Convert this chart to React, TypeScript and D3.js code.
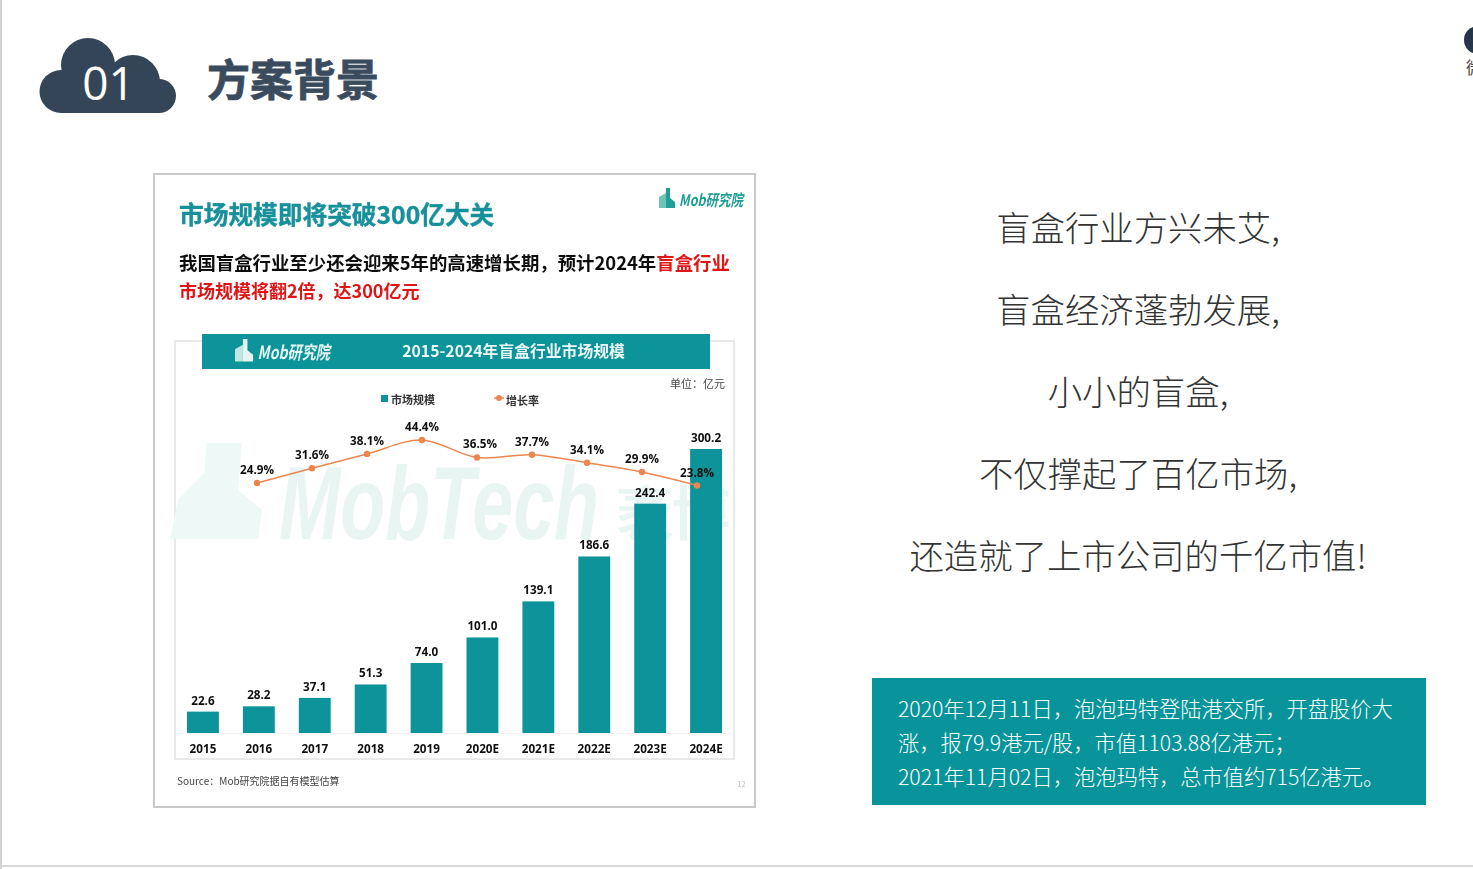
import React, { useEffect, useRef } from "react";
import * as d3 from "d3";

const categories = ["2015", "2016", "2017", "2018", "2019", "2020E", "2021E", "2022E", "2023E", "2024E"];
const marketSize = [22.6, 28.2, 37.1, 51.3, 74.0, 101.0, 139.1, 186.6, 242.4, 300.2];
const growthYears = ["2016", "2017", "2018", "2019", "2020E", "2021E", "2022E", "2023E", "2024E"];
const growthRate = [24.9, 31.6, 38.1, 44.4, 36.5, 37.7, 34.1, 29.9, 23.8];
const rightLines = [
  "盲盒行业方兴未艾,",
  "盲盒经济蓬勃发展,",
  "小小的盲盒,",
  "不仅撑起了百亿市场,",
  "还造就了上市公司的千亿市值!",
];
const noteLines = [
  "2020年12月11日，泡泡玛特登陆港交所，开盘股价大",
  "涨，报79.9港元/股，市值1103.88亿港元；",
  "2021年11月02日，泡泡玛特，总市值约715亿港元。",
];

const TEAL = "#08949a";
const ORANGE = "#ec8550";
const CJK = "'Noto Sans CJK SC', 'Noto Sans', sans-serif";
const NUM = "'Open Sans', sans-serif";

const App: React.FC = () => {
  const svgRef = useRef<SVGSVGElement | null>(null);

  useEffect(() => {
    if (!svgRef.current) return;
    const svg = d3.select(svgRef.current);
    svg.selectAll("*").remove();

    const defs = svg.append("defs");
    defs.append("filter").attr("id", "soft").attr("x", 0).attr("y", 0).attr("width", 1).attr("height", 1)
      .append("feGaussianBlur").attr("stdDeviation", 0.4);

    let root: any = svg;
    const label = (x: number, y: number, s: string, size: number, fill: string, weight = 400, anchor = "start") =>
      root.append("text")
        .attr("x", x).attr("y", y)
        .attr("font-size", size).attr("font-weight", weight)
        .attr("fill", fill).attr("text-anchor", anchor)
        .attr("font-family", CJK)
        .text(s);

    // page frame
    svg.append("rect").attr("width", 1473).attr("height", 869).attr("fill", "#fff");
    svg.append("rect").attr("width", 2).attr("height", 869).attr("fill", "#d2d2d2");
    svg.append("rect").attr("y", 865).attr("width", 1473).attr("height", 2).attr("fill", "#d8d8d8");

    // cloud badge
    const cloud = svg.append("g").attr("fill", "#354558");
    [[88, 65, 27], [133, 82, 27], [61, 91.5, 21.5], [159, 96, 17]].forEach(([cx, cy, r]) => {
      cloud.append("circle").attr("cx", cx).attr("cy", cy).attr("r", r);
    });
    cloud.append("rect").attr("x", 61).attr("y", 80).attr("width", 98).attr("height", 33);
    label(108.5, 100, "01", 46, "#fff", 400, "middle").attr("font-family", NUM);
    label(207, 96, "方案背景", 43, "#3b4b5e", 700).attr("stroke", "#3b4b5e").attr("stroke-width", 0.8);

    // top right corner, cut off by the slide edge
    svg.append("circle").attr("cx", 1478).attr("cy", 40).attr("r", 14).attr("fill", "#26364a");
    label(1466, 74, "微", 17, "#444");

    // report card, slightly soft like the pasted screenshot it is
    svg.append("rect").attr("x", 154).attr("y", 174).attr("width", 601).attr("height", 633)
      .attr("fill", "#fff").attr("stroke", "#c9c9c9").attr("stroke-width", 2);
    root = svg.append("g").attr("filter", "url(#soft)");
    const card = root;

    label(179, 224, "市场规模即将突破300亿大关", 24.7, "#17909a", 700).attr("stroke", "#17909a").attr("stroke-width", 0.4);

    const sub = label(179, 270, "我国盲盒行业至少还会迎来5年的高速增长期，预计2024年", 18.4, "#111", 700);
    sub.append("tspan").attr("fill", "#e01414").text("盲盒行业");
    label(179, 298, "市场规模将翻2倍，达300亿元", 18, "#e01414", 700);

    const logo = (x: number, y: number, k: number, fill: string, back: string) => {
      const g = card.append("g").attr("transform", `translate(${x},${y}) scale(${k})`);
      g.append("path").attr("d", "M0,20 L0,9 L7,5 L7,20 Z").attr("fill", back);
      g.append("path").attr("d", "M7,20 L7,0 L11,0 L11,10 L16,14 L16,20 Z").attr("fill", fill);
      g.append("text").attr("x", 20).attr("y", 18).attr("font-size", 16).attr("font-style", "italic")
        .attr("font-weight", 700).attr("fill", fill).attr("font-family", CJK)
        .attr("textLength", 64).attr("lengthAdjust", "spacingAndGlyphs").text("Mob研究院");
    };
    logo(659, 188, 1, "#1f9f94", "#6cc4b8");

    // chart panel
    card.append("rect").attr("x", 175).attr("y", 341).attr("width", 559).attr("height", 418)
      .attr("fill", "#fff").attr("stroke", "#e2e2e2").attr("stroke-width", 1.5);
    card.append("rect").attr("x", 202).attr("y", 334).attr("width", 508).attr("height", 35).attr("fill", TEAL);
    logo(235, 339, 1.13, "#e6f5f3", "#bfe6e0");
    label(513.5, 357, "2015-2024年盲盒行业市场规模", 15.8, "#eef8f7", 700, "middle");
    label(725, 388, "单位：亿元", 11, "#444", 400, "end");

    // watermark
    const mark = card.append("g").attr("fill", "#e9f5f3");
    mark.append("path").attr("d", "M170,539 L178,500 L205,472 L206,443 L242,443 L238,490 L262,510 L258,539 Z").attr("fill", "#eef8f6");
    mark.append("text").attr("x", 279).attr("y", 539).attr("font-size", 104).attr("font-weight", 700)
      .attr("font-style", "italic").attr("font-family", "'Liberation Sans', sans-serif")
      .attr("textLength", 320).attr("lengthAdjust", "spacingAndGlyphs").text("MobTech");
    mark.append("text").attr("x", 616).attr("y", 535).attr("font-size", 58).attr("font-weight", 700)
      .attr("font-family", CJK).attr("textLength", 114).text("袤博");

    // legend
    card.append("rect").attr("x", 381).attr("y", 395).attr("width", 7).attr("height", 7).attr("fill", TEAL);
    label(391, 404, "市场规模", 11, "#333", 700);
    card.append("line").attr("x1", 494).attr("x2", 504).attr("y1", 398).attr("y2", 398).attr("stroke", ORANGE).attr("stroke-width", 1.5);
    card.append("circle").attr("cx", 499).attr("cy", 398).attr("r", 3).attr("fill", ORANGE);
    label(506, 405, "增长率", 11, "#333", 700);

    // bars
    const x = d3.scaleBand<string>().domain(categories).range([175, 734]).paddingInner(0.43).paddingOuter(0.215);
    const y = d3.scaleLinear().domain([0, 300.2]).range([733, 449]);
    const data = categories.map((c, i) => ({ c, v: marketSize[i] }));

    card.append("g").selectAll("rect").data(data).enter().append("rect")
      .attr("x", (d: any) => x(d.c) as number)
      .attr("y", (d: any) => y(d.v))
      .attr("width", x.bandwidth())
      .attr("height", (d: any) => 733 - y(d.v))
      .attr("fill", TEAL);

    card.append("g").selectAll("text").data(data).enter().append("text")
      .attr("x", (d: any) => (x(d.c) as number) + x.bandwidth() / 2)
      .attr("y", (d: any) => y(d.v) - 7)
      .attr("text-anchor", "middle")
      .attr("font-size", 11.7).attr("font-weight", 700).attr("fill", "#111")
      .attr("font-family", NUM)
      .text((d: any) => d.v.toFixed(1));

    const axis = card.append("g").attr("transform", "translate(0,733)")
      .call(d3.axisBottom(x).tickSize(0).tickPadding(12));
    axis.select(".domain").attr("stroke", "#f3f3f3");
    axis.selectAll("text")
      .attr("font-size", 11.7).attr("font-weight", 700).attr("fill", "#111")
      .attr("font-family", NUM);

    // growth line
    const xLine = d3.scalePoint<string>().domain(growthYears).range([257, 697]);
    const yLine = d3.scaleLinear().domain([23.8, 44.4]).range([485.5, 440]);
    const points = growthYears.map((c, i) => ({ c, v: growthRate[i] }));
    const line = d3.line<{ c: string; v: number }>()
      .x((d) => xLine(d.c) as number)
      .y((d) => yLine(d.v))
      .curve(d3.curveCatmullRom.alpha(0.5));

    card.append("path").attr("d", line(points)).attr("fill", "none").attr("stroke", ORANGE).attr("stroke-width", 1.5);
    card.append("g").selectAll("circle").data(points).enter().append("circle")
      .attr("cx", (d: any) => xLine(d.c) as number)
      .attr("cy", (d: any) => yLine(d.v))
      .attr("r", 3.2)
      .attr("fill", ORANGE);
    card.append("g").selectAll("text").data(points).enter().append("text")
      // the 2020E label sits a little right of its point in the reference
      .attr("x", (d: any) => (xLine(d.c) as number) + (d.c === "2020E" ? 3 : 0))
      .attr("y", (d: any) => yLine(d.v) - 9)
      .attr("text-anchor", "middle")
      .attr("font-size", 11.7).attr("font-weight", 700).attr("fill", "#111")
      .attr("font-family", NUM)
      .text((d: any) => `${d.v.toFixed(1)}%`);

    label(177, 785, "Source：Mob研究院据自有模型估算", 10, "#444");
    label(741.5, 787, "12", 7.5, "#bdbdbd", 400, "middle");

    // right column
    root = svg;
    rightLines.forEach((s, i) => {
      label(1138, 240.5 + i * 82, s, 34.4, "#333", 300, "middle");
    });
    svg.append("rect").attr("x", 872).attr("y", 678).attr("width", 554).attr("height", 127).attr("fill", TEAL);
    noteLines.forEach((s, i) => {
      label(898, 717 + i * 34, s, 21.25, "#fff", 300);
    });
  }, []);

  return <svg ref={svgRef} width={1473} height={869} style={{ position: "absolute", left: 0, top: 0 }} />;
};

export default App;
